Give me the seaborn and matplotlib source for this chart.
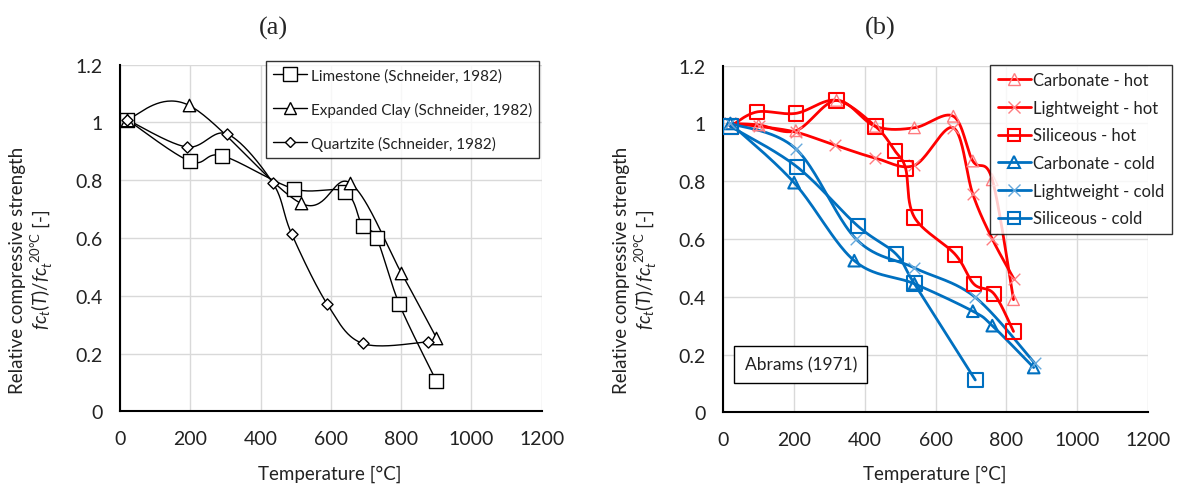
import numpy as np
import pandas as pd
import matplotlib
matplotlib.use("Agg")
import matplotlib.pyplot as plt
from matplotlib.lines import Line2D
from matplotlib.ticker import FuncFormatter
import seaborn as sns

# ---------------- data: panel (a) Schneider (1982) ----------------
lime_T = [20, 200, 290, 495, 640, 690, 730, 795, 900]
lime_f = [1.01, 0.865, 0.885, 0.77, 0.76, 0.64, 0.60, 0.37, 0.105]
clay_T = [20, 195, 515, 655, 800, 900]
clay_f = [1.01, 1.06, 0.72, 0.79, 0.48, 0.255]
quartz_T = [20, 190, 305, 435, 488, 590, 690, 875]
quartz_f = [1.01, 0.915, 0.96, 0.79, 0.615, 0.37, 0.235, 0.24]

# ---------------- data: panel (b) Abrams (1971) ----------------
carb_hot_T = [20, 100, 205, 320, 430, 540, 650, 705, 760, 820]
carb_hot_f = [1.0, 0.995, 0.975, 1.08, 0.99, 0.985, 1.025, 0.87, 0.805, 0.39]
light_hot_T = [20, 100, 205, 315, 430, 540, 650, 705, 760, 822]
light_hot_f = [1.0, 0.99, 0.97, 0.925, 0.88, 0.855, 0.985, 0.755, 0.60, 0.46]
sil_hot_T = [20, 95, 205, 320, 430, 485, 515, 540, 655, 708, 765, 820]
sil_hot_f = [0.99, 1.04, 1.035, 1.08, 0.99, 0.905, 0.845, 0.675, 0.547, 0.444, 0.41, 0.28]
carb_cold_T = [20, 200, 370, 540, 705, 760, 877]
carb_cold_f = [1.0, 0.795, 0.525, 0.445, 0.35, 0.30, 0.155]
light_cold_T = [20, 205, 375, 540, 710, 880]
light_cold_f = [1.0, 0.912, 0.60, 0.50, 0.40, 0.17]
sil_cold_T = [20, 208, 380, 488, 540, 712]
sil_cold_f = [0.99, 0.85, 0.645, 0.548, 0.445, 0.112]

labels_a = ["Limestone (Schneider, 1982)", "Expanded Clay (Schneider, 1982)",
            "Quartzite (Schneider, 1982)"]
labels_b = ["Carbonate - hot", "Lightweight - hot", "Siliceous - hot",
            "Carbonate - cold", "Lightweight - cold", "Siliceous - cold"]
title_a = "(a)"
title_b = "(b)"
xlabel = "Temperature [°C]"
ylabel = "Relative compressive strength\n$fc_t(T)/fc_t^{\\ \\mathrm{20°C}}$ [-]"
note_b = "Abrams (1971)"
xticks = [0, 200, 400, 600, 800, 1000, 1200]
yticks = [0, 0.2, 0.4, 0.6, 0.8, 1.0, 1.2]

RED = "#FF0000"
RED_L = "#FF7C80"
BLUE = "#0070C0"
BLUE_L = "#66A9DC"
GRID = "#D9D9D9"


def smooth(x, y, n=40):
    """Catmull-Rom (Excel-like smoothed line) through the data points."""
    x = np.asarray(x, float)
    y = np.asarray(y, float)
    P = np.column_stack([x, y])
    P = np.vstack([P[0], P, P[-1]])
    out = []
    for i in range(1, len(P) - 2):
        p0, p1, p2, p3 = P[i - 1], P[i], P[i + 1], P[i + 2]
        c1 = p1 + (p2 - p0) / 6.0
        c2 = p2 - (p3 - p1) / 6.0
        t = np.linspace(0, 1, n)[:, None]
        b = ((1 - t) ** 3) * p1 + 3 * ((1 - t) ** 2) * t * c1 + 3 * (1 - t) * t ** 2 * c2 + t ** 3 * p2
        out.append(b if i == 1 else b[1:])
    B = np.vstack(out)
    return B[:, 0], B[:, 1]


sns.set_theme(style="white")
plt.rcParams["font.family"] = ["Lato", "DejaVu Sans"]
plt.rcParams["mathtext.fontset"] = "custom"
plt.rcParams["mathtext.rm"] = "Lato"
plt.rcParams["mathtext.it"] = "Lato:italic"

fig = plt.figure(figsize=(11.79, 4.89), dpi=100)
ax_a = fig.add_axes([0.1018, 0.1569, 0.3577, 0.7088])
ax_b = fig.add_axes([0.6135, 0.1548, 0.3602, 0.7088])


def style_axes(ax):
    ax.set_xlim(0, 1200)
    ax.set_ylim(0, 1.2)
    ax.set_xticks(xticks)
    ax.set_yticks(yticks)
    ax.yaxis.set_major_formatter(FuncFormatter(lambda v, p: f"{v:g}"))
    ax.grid(True, color=GRID, lw=1.0, zorder=0)
    ax.set_axisbelow(True)
    for s in ["top", "right"]:
        ax.spines[s].set_visible(False)
    for s in ["left", "bottom"]:
        ax.spines[s].set_color("black")
        ax.spines[s].set_linewidth(1.5)
    ax.tick_params(axis="both", direction="inout", length=7, width=1.2,
                   color="black", labelsize=14, labelcolor="#222222")
    ax.tick_params(axis="x", pad=10)
    ax.tick_params(axis="y", pad=9)
    ax.set_xlabel("")
    ax.set_ylabel("")


def draw(ax, T, f, color, mcolor, marker, s, lw, face, mlw):
    xs, ys = smooth(T, f)
    sns.lineplot(x=xs, y=ys, sort=False, estimator=None, ax=ax, color=color,
                 lw=lw, zorder=3)
    if marker == "x":
        sns.scatterplot(x=T, y=f, ax=ax, marker="x", s=s, color=mcolor,
                        linewidth=mlw, zorder=4)
    else:
        sns.scatterplot(x=T, y=f, ax=ax, marker=marker, s=s, facecolor=face,
                        edgecolor=mcolor, linewidth=mlw, zorder=4)


# ---- panel (a)
draw(ax_a, lime_T, lime_f, "black", "black", "s", 100, 1.0, "white", 1.0)
draw(ax_a, clay_T, clay_f, "black", "black", "^", 80, 1.0, "white", 1.0)
draw(ax_a, quartz_T, quartz_f, "black", "black", "D", 32, 1.0, "white", 1.0)
style_axes(ax_a)
h_a = [Line2D([], [], color="black", lw=1.0, marker="s", ms=9.5, mfc="white", mec="black", mew=1.0),
       Line2D([], [], color="black", lw=1.0, marker="^", ms=9, mfc="white", mec="black", mew=1.0),
       Line2D([], [], color="black", lw=1.0, marker="D", ms=5.5, mfc="white", mec="black", mew=1.0)]
leg = ax_a.legend(h_a, labels_a, loc="upper right", bbox_to_anchor=(0.993, 1.01),
                  frameon=True, fancybox=False, fontsize=11, handlelength=2.2,
                  handletextpad=0.25, labelspacing=1.25, borderpad=0.45,
                  borderaxespad=0.0, labelcolor="#222222")
leg.get_frame().set_edgecolor("black")
leg.get_frame().set_linewidth(1.0)

# ---- panel (b)
draw(ax_b, carb_hot_T, carb_hot_f, RED, RED_L, "^", 70, 2.0, "none", 1.0)
draw(ax_b, light_hot_T, light_hot_f, RED, RED_L, "x", 70, 2.0, "none", 1.0)
draw(ax_b, sil_hot_T, sil_hot_f, RED, RED, "s", 110, 2.0, "none", 1.5)
draw(ax_b, carb_cold_T, carb_cold_f, BLUE, BLUE, "^", 70, 2.0, "none", 1.5)
draw(ax_b, light_cold_T, light_cold_f, BLUE, BLUE_L, "x", 70, 2.0, "none", 1.0)
draw(ax_b, sil_cold_T, sil_cold_f, BLUE, BLUE, "s", 110, 2.0, "none", 1.5)
style_axes(ax_b)
h_b = [Line2D([], [], color=RED, lw=2.0, marker="^", ms=8, mfc="none", mec=RED_L, mew=1.0),
       Line2D([], [], color=RED, lw=2.0, marker="x", ms=8, mec=RED_L, mew=1.0),
       Line2D([], [], color=RED, lw=2.0, marker="s", ms=9, mfc="none", mec=RED, mew=1.5),
       Line2D([], [], color=BLUE, lw=2.0, marker="^", ms=8, mfc="none", mec=BLUE, mew=1.5),
       Line2D([], [], color=BLUE, lw=2.0, marker="x", ms=8, mec=BLUE_L, mew=1.0),
       Line2D([], [], color=BLUE, lw=2.0, marker="s", ms=9, mfc="none", mec=BLUE, mew=1.5)]
leg_b = ax_b.legend(h_b, labels_b, loc="upper left", bbox_to_anchor=(0.628, 1.003),
                    frameon=True, fancybox=False, fontsize=12, handlelength=2.0,
                    handletextpad=0.15, labelspacing=0.7, borderpad=0.45,
                    borderaxespad=0.0, labelcolor="#222222")
leg_b.get_frame().set_edgecolor("black")
leg_b.get_frame().set_linewidth(1.0)
ax_b.text(219, 0.167, note_b, ha="center", va="center", fontsize=12.5, color="#222222",
          bbox=dict(boxstyle="square,pad=0.6", fc="white", ec="black", lw=1.0), zorder=6)

# ---- titles and labels
fig.text(273 / 1179, 1 - 28 / 489, title_a, ha="center", va="center",
         fontsize=19, family="Liberation Serif")
fig.text(880 / 1179, 1 - 28 / 489, title_b, ha="center", va="center",
         fontsize=19, family="Liberation Serif")
fig.text(330 / 1179, 1 - 474 / 489, xlabel, ha="center", va="center", fontsize=13.5, color="#222222")
fig.text(935 / 1179, 1 - 474 / 489, xlabel, ha="center", va="center", fontsize=13.5, color="#222222")
fig.text(32 / 1179, 1 - 270 / 489, ylabel, ha="center", va="center", rotation=90,
         fontsize=13.5, color="#222222", linespacing=1.1)
fig.text(636 / 1179, 1 - 270 / 489, ylabel, ha="center", va="center", rotation=90,
         fontsize=13.5, color="#222222", linespacing=1.1)

fig.savefig("out.png", dpi=100)
